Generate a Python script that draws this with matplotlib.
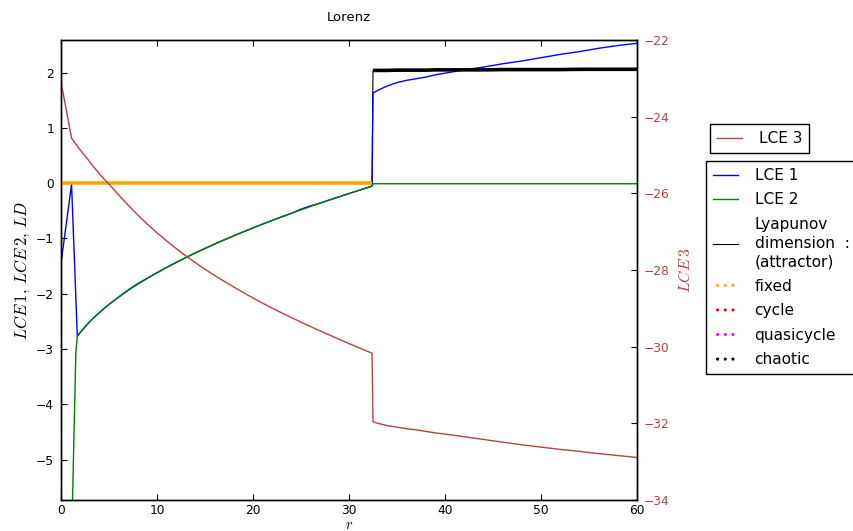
import numpy as np
import matplotlib
matplotlib.use("Agg")
import matplotlib.pyplot as plt

plt.rcParams['font.family'] = ['DejaVu Sans']
plt.rcParams['mathtext.fontset'] = 'cm'

# ---- data ----
r = [0, 1.1, 1.55, 1.7, 2.0, 2.5, 3.0, 3.5, 4.0, 4.5, 5,
     6, 7, 8, 9, 10, 11, 12, 13, 14, 15, 16, 17, 18, 19, 20, 21, 22, 23, 24, 25,
     26, 27, 28, 29, 30, 31, 32, 32.4,
     32.5, 33, 33.5, 34, 35, 36, 37, 38, 39, 40, 42, 44, 46, 48, 50, 52, 54, 56, 58, 60]

lce1 = [-1.45, -0.02, -2.08, -2.77, -2.70, -2.60, -2.505, -2.42, -2.34, -2.264, -2.193,
        -2.061, -1.93, -1.815, -1.72, -1.62, -1.524, -1.433, -1.345, -1.261, -1.18, -1.101,
        -1.025, -0.951, -0.879, -0.809, -0.74, -0.674, -0.608, -0.545, -0.47,
        -0.41, -0.36, -0.301, -0.244, -0.187, -0.131, -0.075, -0.054,
        1.63, 1.68, 1.72, 1.76, 1.82, 1.86, 1.89, 1.92, 1.96, 1.99, 2.05, 2.10, 2.16,
        2.21, 2.27, 2.33, 2.38, 2.44, 2.49, 2.53]

lce2 = [-12.0, -6.5, -3.05, -2.77, -2.70, -2.60, -2.505, -2.42, -2.34, -2.264, -2.193,
        -2.061, -1.939, -1.826, -1.72, -1.62, -1.524, -1.433, -1.345, -1.261, -1.18, -1.101,
        -1.025, -0.951, -0.879, -0.809, -0.74, -0.674, -0.608, -0.545, -0.482,
        -0.421, -0.36, -0.301, -0.244, -0.187, -0.131, -0.075, -0.054,
        -0.01, -0.01, -0.01, -0.01, -0.01, -0.01, -0.01, -0.01, -0.01, -0.01, -0.01, -0.01,
        -0.01, -0.01, -0.01, -0.01, -0.01, -0.01, -0.01, -0.01]

lce3 = [-23.09, -24.56, -24.72, -24.77, -24.87, -25.02, -25.18, -25.34, -25.49, -25.63, -25.76,
        -26.04, -26.31, -26.565, -26.805, -27.03, -27.24, -27.44, -27.63, -27.81, -27.98,
        -28.14, -28.295, -28.445, -28.59, -28.73, -28.865, -28.995, -29.12, -29.24, -29.36,
        -29.475, -29.59, -29.70, -29.81, -29.92, -30.025, -30.13, -30.17,
        -31.96, -32.00, -32.03, -32.06, -32.10, -32.14, -32.17, -32.21, -32.25, -32.28,
        -32.35, -32.42, -32.49, -32.56, -32.62, -32.68, -32.73, -32.79, -32.84, -32.89]

ld = [0] * 39 + [2.04, 2.04, 2.04, 2.04, 2.045, 2.045, 2.045, 2.045, 2.05, 2.05,
                 2.05, 2.05, 2.055, 2.055, 2.055, 2.055, 2.06, 2.06, 2.06, 2.06]

attractor = ['fixed'] * 39 + ['chaotic'] * 20

class_colors = {'fixed': 'orange', 'cycle': 'red', 'quasicycle': 'magenta', 'chaotic': 'black'}

xticks = [0, 10, 20, 30, 40, 50, 60]
yticks_left = [-5, -4, -3, -2, -1, 0, 1, 2]
yticks_right = [-34, -32, -30, -28, -26, -24, -22]

red = '#B5423F'

# ---- figure ----
fig = plt.figure(figsize=(8.54, 5.31), dpi=100)
fig.patch.set_facecolor('white')
ax = fig.add_axes([61/854, 31/531, 576/854, 460/531])
ax2 = ax.twinx()

r_arr = np.array(r)
ld_arr = np.array(ld)
cls_arr = np.array(attractor)

h_ld, = ax.plot(r_arr, ld_arr, color='black', lw=0.8,
                label='Lyapunov\ndimension  :\n(attractor)')
h1, = ax.plot(r_arr, lce1, color='blue', lw=1.0, label='LCE 1')
h2, = ax.plot(r_arr, lce2, color='green', lw=1.0, label='LCE 2')

class_handles = []
for name, col in class_colors.items():
    m = cls_arr == name
    if m.any():
        ax.plot(r_arr[m], ld_arr[m], color=col, lw=2.6, solid_capstyle='butt', zorder=3)
    class_handles.append(ax.scatter([], [], s=5, color=col, edgecolors='none', label=name))

h3, = ax2.plot(r_arr, lce3, color=red, lw=1.0, label='LCE 3')

ax.set_xlim(0, 60)
ax.set_ylim(-5.73, 2.59)
ax2.set_ylim(-34, -22)
ax.set_xticks(xticks)
ax.set_yticks(yticks_left)
ax2.set_yticks(yticks_right)

for a in (ax, ax2):
    for s in a.spines.values():
        s.set_linewidth(1.0)
        s.set_color('black')

ax.tick_params(axis='both', direction='in', length=4, width=0.8, labelsize=8.8, colors='black')
ax.tick_params(axis='x', top=True, pad=3)
ax.tick_params(axis='y', pad=5)
ax2.tick_params(axis='y', direction='in', length=4, width=0.8, labelsize=8.8, labelcolor=red, pad=5)

ax.set_xlabel('$r$', fontsize=10.5, labelpad=0)
ax.set_ylabel(r'$LCE\,1,\,LCE\,2,\,LD$', fontsize=12, labelpad=3)
ax2.set_ylabel(r'$LCE\,3$', fontsize=11.5, color=red, labelpad=5)
ax.set_title('Lorenz', fontsize=9.5, pad=14)

leg_kw = dict(loc='upper left', bbox_transform=fig.transFigure, borderaxespad=0,
              fancybox=False, framealpha=1, fontsize=11.1, handlelength=1.6,
              handletextpad=1.1, borderpad=0.45, scatterpoints=3, scatteryoffsets=[0.5],
              labelspacing=0.62)
leg1 = fig.legend(handles=[h3], bbox_to_anchor=(710/854, 1 - 124/531), **leg_kw)
leg1.get_frame().set_edgecolor('black')
leg1.get_frame().set_linewidth(1.0)
leg2 = fig.legend(handles=[h1, h2, h_ld] + class_handles,
                  bbox_to_anchor=(706/854, 1 - 161/531), **leg_kw)
leg2.get_frame().set_edgecolor('black')
leg2.get_frame().set_linewidth(1.0)
for t in leg2.get_texts():
    t.set_linespacing(1.3)

fig.savefig('out.png', dpi=100, facecolor='white')
